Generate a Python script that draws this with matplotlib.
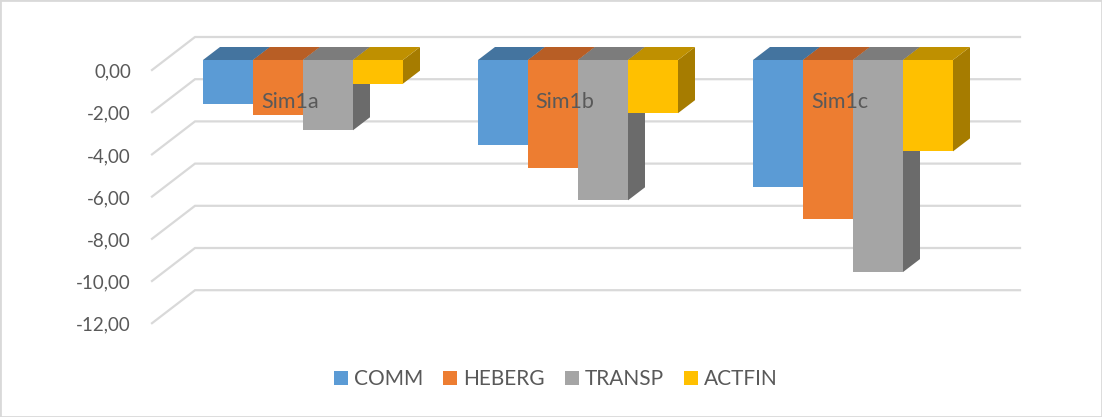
# negative 3D-look bar chart, drawn with plain bars and polygons
import matplotlib
matplotlib.use('Agg')
import matplotlib.pyplot as plt
from matplotlib.patches import Patch, Polygon, Rectangle

plt.rcParams['font.family'] = ['Lato', 'DejaVu Sans']

# data
categories = ['Sim1a', 'Sim1b', 'Sim1c']
series = ['COMM', 'HEBERG', 'TRANSP', 'ACTFIN']
comm = [-2.08, -4.05, -6.0]
heberg = [-2.62, -5.1, -7.55]
transp = [-3.33, -6.65, -10.05]
actfin = [-1.12, -2.52, -4.33]
ticks = [0, -2, -4, -6, -8, -10, -12]

front_colors = ['#5B9BD5', '#ED7D31', '#A5A5A5', '#FFC000']
top_colors = ['#44749F', '#B85E25', '#7C7C7C', '#BF9000']
side_colors = ['#3C678E', '#A65420', '#6B6B6B', '#A67C00']

W, H = 1102, 417
GROUP_PX = 275.0
UNIT_PX = 21.1
BAR_W = 50 / GROUP_PX
DX = 17 / GROUP_PX     # depth of a bar
DY = 13 / UNIT_PX
text_color = '#595959'
grid_color = '#D9D9D9'


def main():
    fig = plt.figure(figsize=(W / 100, H / 100), dpi=100)
    ax = fig.add_axes([0, 0, 1, 1])
    # one x unit is one category, one y unit is one chart value
    ax.set_xlim(-303 / GROUP_PX, (W - 303) / GROUP_PX)
    ax.set_ylim((60 - H) / UNIT_PX, 60 / UNIT_PX)
    ax.axis('off')

    ax.add_patch(Rectangle((0, 0), 1, 1, transform=ax.transAxes, fill=False,
                           edgecolor=grid_color, linewidth=2, zorder=0))

    # walls: slanted part then the long back part of each gridline
    for t in ticks:
        x0, x1, x2 = -151 / GROUP_PX, -108 / GROUP_PX, 717 / GROUP_PX
        y0, y1 = t - 10 / UNIT_PX, t + 23 / UNIT_PX
        ax.plot([x0, x1, x2], [y0, y1, y1], color=grid_color, lw=1.6, zorder=1,
                solid_joinstyle='miter')
        ax.text(-172 / GROUP_PX, y0 - 2 / UNIT_PX, f'{t:.2f}'.replace('.', ','), ha='right', va='center',
                fontsize=13.5, color=text_color, zorder=5)

    values = [comm, heberg, transp, actfin]
    z = 2
    for i, cat in enumerate(categories):
        for j, vals in enumerate(values):
            x = i + (j - 2) * BAR_W
            v = vals[i]
            ax.add_patch(Polygon([(x + BAR_W, 0), (x + BAR_W + DX, DY), (x + BAR_W + DX, v + DY), (x + BAR_W, v)],
                                 facecolor=side_colors[j], edgecolor='none', zorder=z))
            ax.add_patch(Polygon([(x, 0), (x + DX, DY), (x + BAR_W + DX, DY), (x + BAR_W, 0)],
                                 facecolor=top_colors[j], edgecolor='none', zorder=z))
            ax.bar(x, v, width=BAR_W, align='edge', color=front_colors[j], zorder=z + 0.5)
            z += 1
        ax.text(i - 13 / GROUP_PX, -42 / UNIT_PX, cat, ha='center', va='center',
                fontsize=15.5, color=text_color, zorder=50)

    handles = [Patch(facecolor=c, edgecolor='none', label=s) for c, s in zip(front_colors, series)]
    ax.legend(handles=handles, ncol=4, loc='center', bbox_to_anchor=(556 / W, 1 - 379 / H),
              frameon=False, fontsize=15, labelcolor=text_color, handlelength=0.67,
              handleheight=0.67, handletextpad=0.3, columnspacing=0.95)

    fig.savefig('out.png', dpi=100)


if __name__ == '__main__':
    main()
